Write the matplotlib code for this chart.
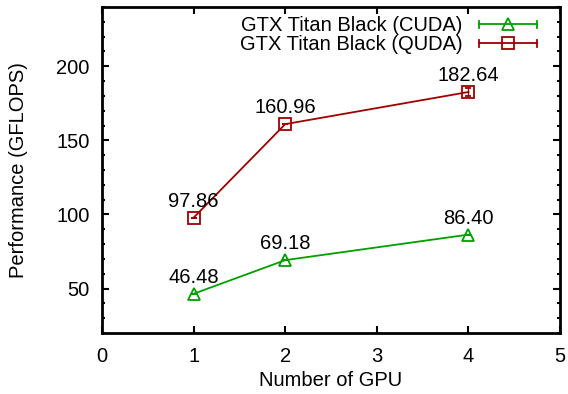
import matplotlib
matplotlib.use('Agg')
import matplotlib.pyplot as plt
from matplotlib.legend_handler import HandlerLine2D
from matplotlib.lines import Line2D
from matplotlib.ticker import MultipleLocator

plt.rcParams['font.family'] = ['Liberation Sans', 'DejaVu Sans']
plt.rcParams['font.size'] = 14.5

gpus = [1, 2, 4]
cuda_perf = [46.48, 69.18, 86.40]
quda_perf = [97.86, 160.96, 182.64]
cuda_err = [0.0, 0.0, 0.0]
quda_err = [0.0, 0.0, 2.5]
cuda_label = 'GTX Titan Black (CUDA)'
quda_label = 'GTX Titan Black (QUDA)'

green = '#00a000'
red = '#a00000'


class CapLineHandler(HandlerLine2D):
	# gnuplot style legend sample: line with small caps at both ends
	def create_artists(self, legend, orig_handle, xdescent, ydescent,
	                   width, height, fontsize, trans):
		artists = super().create_artists(legend, orig_handle, xdescent, ydescent,
		                                 width, height, fontsize, trans)
		y = (height - ydescent) / 2.0
		c = orig_handle.get_color()
		for x in (-xdescent, width - xdescent):
			cap = Line2D([x, x], [y - 2.5, y + 2.5], color=c, lw=1.3)
			cap.set_transform(trans)
			artists.append(cap)
		return artists


fig = plt.figure(figsize=(5.68, 3.94), dpi=100)
ax = fig.add_axes([0.1796, 0.1548, 0.8064, 0.8274])

ax.errorbar(gpus, cuda_perf, yerr=cuda_err, color=green, lw=1.3, marker='^',
            markersize=8, mfc='none', mec=green, mew=1.3, capsize=2, elinewidth=1)
ax.errorbar(gpus, quda_perf, yerr=quda_err, color=red, lw=1.3, marker='s',
            markersize=8, mfc='none', mec=red, mew=1.3, capsize=2, elinewidth=1)

for x, y in zip(gpus, cuda_perf):
	ax.annotate('%.2f' % y, (x, y), xytext=(0, 8), textcoords='offset points',
	            ha='center', va='baseline', fontsize=14.5)
for x, y in zip(gpus, quda_perf):
	ax.annotate('%.2f' % y, (x, y), xytext=(0, 8), textcoords='offset points',
	            ha='center', va='baseline', fontsize=14.5)

h1 = Line2D([], [], color=green, lw=1.3, marker='^', markersize=8, mfc='none', mew=1.3)
h2 = Line2D([], [], color=red, lw=1.3, marker='s', markersize=8, mfc='none', mew=1.3)
ax.legend([h1, h2], [cuda_label, quda_label], loc='upper right', frameon=False,
          markerfirst=False, handlelength=2.9, handletextpad=0.8, labelspacing=0.0,
          borderaxespad=0.2, fontsize=14.5, numpoints=1,
          handler_map={h1: CapLineHandler(), h2: CapLineHandler()},
          bbox_to_anchor=(0.976, 1.009))

ax.set_xlim(0, 5)
ax.set_ylim(20, 240)
ax.set_xticks([0, 1, 2, 3, 4, 5])
ax.set_yticks([50, 100, 150, 200])
ax.yaxis.set_minor_locator(MultipleLocator(10))
ax.tick_params(which='both', direction='in', top=True, right=True, width=1.5)
ax.tick_params(which='major', length=5)
ax.tick_params(axis='y', which='major', pad=9)
ax.tick_params(axis='x', which='major', pad=10)
ax.tick_params(which='minor', length=2.5)
for s in ax.spines.values():
	s.set_linewidth(2)

ax.set_xlabel('Number of GPU', fontsize=14.5, labelpad=4)
ax.set_ylabel('Performance (GFLOPS)', fontsize=14.5, labelpad=20)

fig.savefig('out.png', dpi=100)
